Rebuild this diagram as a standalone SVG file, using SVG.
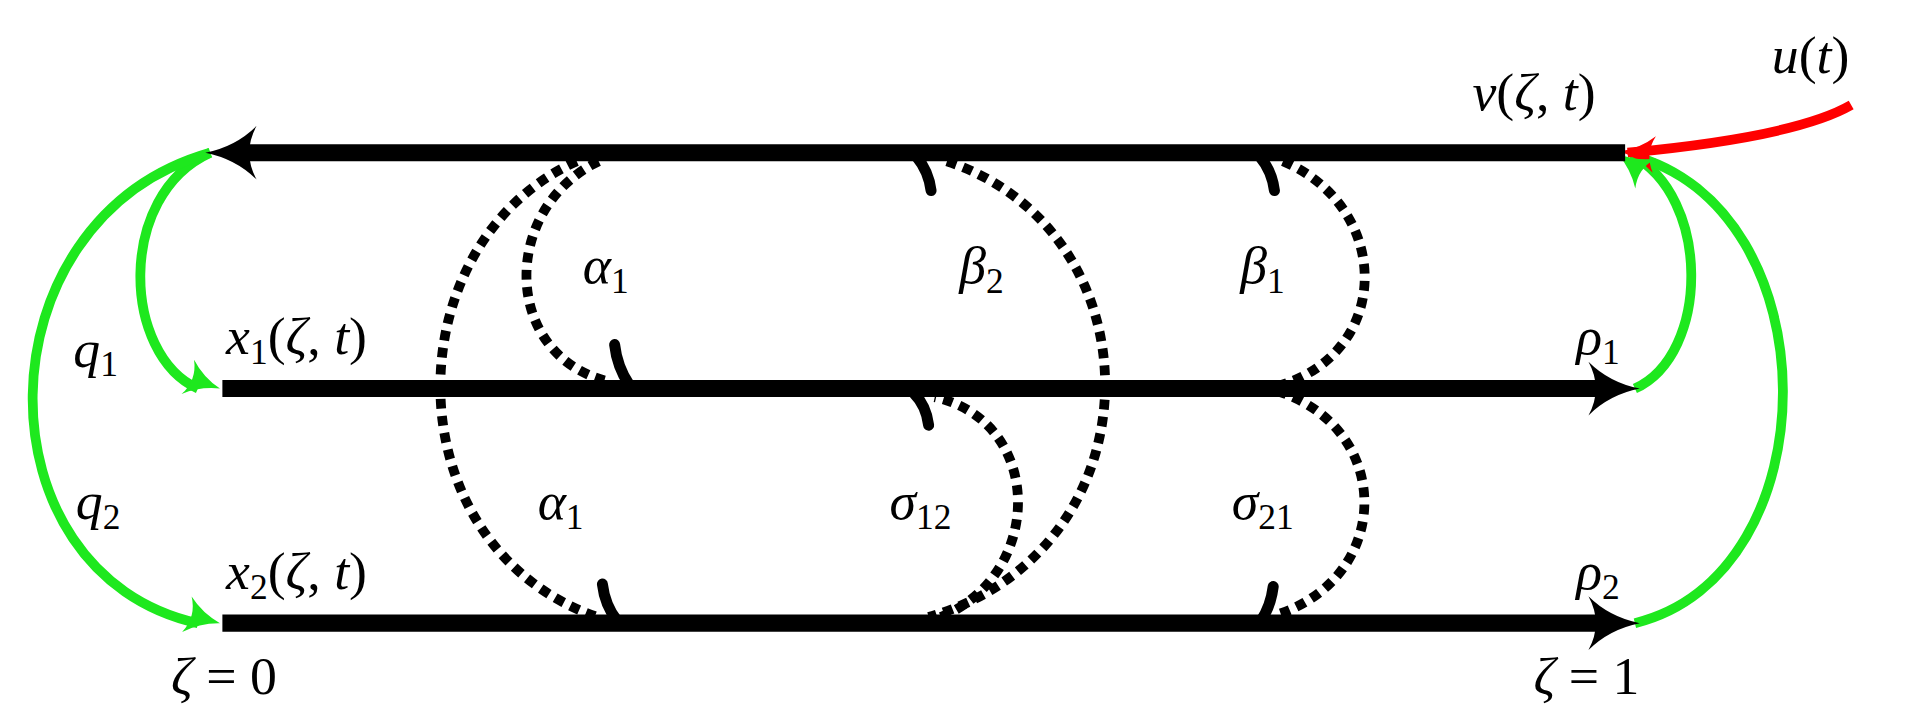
<svg xmlns="http://www.w3.org/2000/svg" width="1916" height="728" viewBox="0 0 1916 728">
<style>
.ln{stroke:#000;stroke-width:14;fill:none}
.dot{stroke:#000;stroke-width:8;fill:none;stroke-dasharray:8 6}
.hk{stroke:#000;stroke-width:9;fill:none;stroke-linecap:round}
.gr{stroke:#1ee81e;stroke-width:8;fill:none}
text{font-family:"Liberation Serif","DejaVu Serif",serif;font-style:italic;font-size:44px;fill:#000}
.sb{font-size:29px;font-style:normal}
.up{font-style:normal}
</style>
<defs>
<path id="ah" d="M0,0 Q-25,-5 -42,-22 Q-30,0 -42,22 Q-25,5 0,0Z"/>
<path id="ag" d="M0,0 Q-16,-4 -28,-15 Q-20,0 -28,15 Q-16,4 0,0Z"/>
</defs>
<rect width="1916" height="728" fill="#fff"/>
<g transform="scale(1.2219)">
<g id="connectors">
<path class="gr" d="M172,125 C95,160 100,290 162,318"/>
<path class="gr" d="M172,125 C-20,180 -20,470 162,510"/>
<path class="gr" d="M1338,318 C1400,290 1400,160 1335,127"/>
<path class="gr" d="M1338,510 C1500,470 1500,170 1335,127"/>
<path d="M1515,86 Q1470,112 1332,125" stroke="#f00" stroke-width="8" fill="none"/>
<use href="#ag" transform="translate(180,318) rotate(20)" fill="#1ee81e"/>
<use href="#ag" transform="translate(180,510) rotate(15)" fill="#1ee81e"/>
<use href="#ag" transform="translate(1326,124) rotate(185)" fill="#f00"/>
<use href="#ag" transform="translate(1324,126) rotate(215)" fill="#1ee81e"/>

<path class="dot" d="M490,132 C410,170 410,290 497,312"/>
<path class="hk" d="M503,282 Q505,300 515,315"/>
<path class="dot" d="M472,132 C320,200 320,450 492,506"/>
<path class="hk" d="M493,478 Q495,495 505,508"/>
<path class="dot" d="M775,132 C950,190 950,450 760,505"/>
<path class="hk" d="M762,156 Q760,140 750,128"/>
<path class="dot" d="M770,505 C855,470 855,345 765,325"/>
<path class="hk" d="M760,348 Q758,332 748,322"/>
<path class="dot" d="M1050,132 C1140,170 1140,290 1045,316"/>
<path class="hk" d="M1043,156 Q1041,140 1031,128"/>
<path class="dot" d="M1045,320 C1140,350 1140,470 1048,502"/>
<path class="hk" d="M1042,480 Q1040,496 1032,508"/>

<line class="ln" x1="200" y1="125" x2="1330" y2="125"/>
<use href="#ah" transform="translate(168,125) rotate(180)"/>
<line class="ln" x1="182" y1="318" x2="1310" y2="318"/>
<use href="#ah" transform="translate(1342,318)"/>
<line class="ln" x1="182" y1="510" x2="1310" y2="510"/>
<use href="#ah" transform="translate(1342,510)"/>
</g>
<g id="labels">
<text x="1205" y="90">ν<tspan class="up">(</tspan>ζ<tspan class="up">, </tspan>t<tspan class="up">)</tspan></text>
<text x="1450" y="60">u<tspan class="up">(</tspan>t<tspan class="up">)</tspan></text>
<text x="60" y="300">q<tspan class="sb" dy="8">1</tspan></text>
<text x="185" y="290">x<tspan class="sb" dy="8">1</tspan><tspan class="up" dy="-8">(</tspan>ζ<tspan class="up">, </tspan>t<tspan class="up">)</tspan></text>
<text x="62" y="425">q<tspan class="sb" dy="8">2</tspan></text>
<text x="185" y="482">x<tspan class="sb" dy="8">2</tspan><tspan class="up" dy="-8">(</tspan>ζ<tspan class="up">, </tspan>t<tspan class="up">)</tspan></text>
<text x="140" y="568">ζ<tspan class="up"> = 0</tspan></text>
<text x="1255" y="568">ζ<tspan class="up"> = 1</tspan></text>
<text x="477" y="232">α<tspan class="sb" dy="8">1</tspan></text>
<text x="785" y="232">β<tspan class="sb" dy="8">2</tspan></text>
<text x="1015" y="232">β<tspan class="sb" dy="8">1</tspan></text>
<text x="1290" y="290">ρ<tspan class="sb" dy="8">1</tspan></text>
<text x="440" y="425">α<tspan class="sb" dy="8">1</tspan></text>
<text x="728" y="425">σ<tspan class="sb" dy="8">12</tspan></text>
<text x="1008" y="425">σ<tspan class="sb" dy="8">21</tspan></text>
<text x="1290" y="482">ρ<tspan class="sb" dy="8">2</tspan></text>
</g>
</g>
</svg>
